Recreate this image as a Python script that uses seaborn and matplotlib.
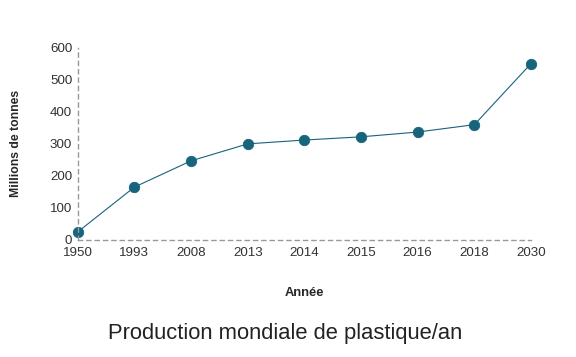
import numpy as np
import pandas as pd
import matplotlib
matplotlib.use("Agg")
import matplotlib.pyplot as plt
import seaborn as sns

# data
years = ["1950", "1993", "2008", "2013", "2014", "2015", "2016", "2018", "2030"]
tonnes = [25, 165, 247, 300, 312, 322, 337, 360, 551]
yticks = [0, 100, 200, 300, 400, 500, 600]

df = pd.DataFrame({"Année": years, "Millions de tonnes": tonnes})

sns.set_style("white")
plt.rcParams['font.family'] = ['Liberation Sans', 'DejaVu Sans']

fig = plt.figure(figsize=(5.76, 3.57), dpi=100)
ax = fig.add_axes([0.135, 0.328, 0.787, 0.538])

col = "#17647c"
sns.pointplot(data=df, x="Année", y="Millions de tonnes", color=col,
              markersize=7.5, linewidth=0.8, ax=ax)

ax.set_ylim(0, 600)
ax.set_xlim(0, len(years) - 1)
ax.set_yticks(yticks)
ax.tick_params(axis="both", length=0, labelsize=9.6, colors="#333333")
ax.tick_params(axis="x", pad=5)
ax.tick_params(axis="y", pad=4)

for s in ["top", "right"]:
    ax.spines[s].set_visible(False)
for s in ["left", "bottom"]:
    ax.spines[s].set_linestyle((0, (3, 3)))
    ax.spines[s].set_color("#999999")
    ax.spines[s].set_linewidth(1)
for line in ax.lines:
    line.set_clip_on(False)
for c in ax.collections:
    c.set_clip_on(False)

ax.set_xlabel("Année", fontsize=9.3, fontweight="bold", labelpad=20)
ax.set_ylabel("Millions de tonnes", fontsize=8.8, fontweight="bold", labelpad=20)

fig.text(0.495, 0.067, "Production mondiale de plastique/an", ha="center",
         va="center", fontsize=15.8, color="#222222")

fig.savefig("out.png", dpi=100)
